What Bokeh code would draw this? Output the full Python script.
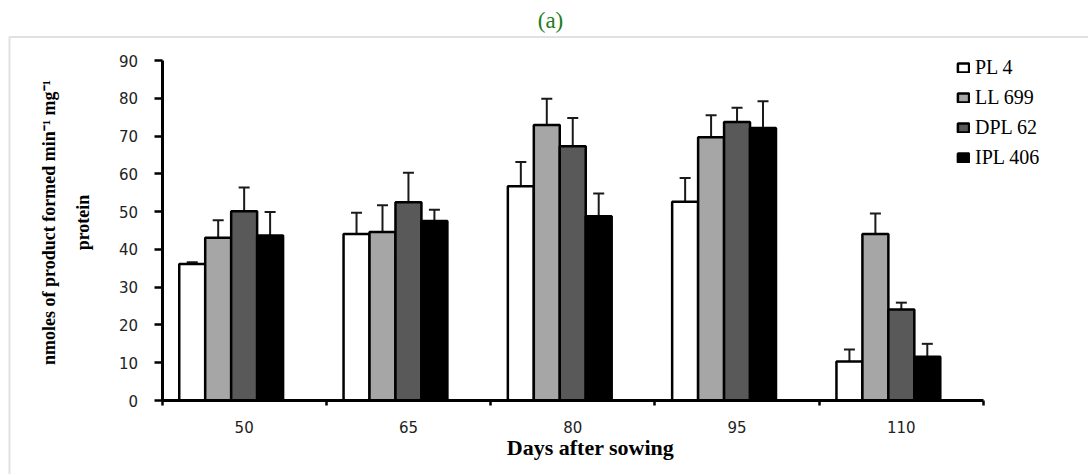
import math
from bokeh.plotting import figure
from bokeh.models import (Range1d, FixedTicker, ColumnDataSource, Whisker, TeeHead,
                          Label, Legend, LegendItem, BoxAnnotation)
from bokeh.embed import file_html
from bokeh.resources import INLINE

# ---------------- data ----------------
days = ["50", "65", "80", "95", "110"]
series = ["PL 4", "LL 699", "DPL 62", "IPL 406"]
colors = ["#ffffff", "#a6a6a6", "#595959", "#000000"]

pl4 = [36.1, 44.1, 56.7, 52.6, 10.3]
pl4_err = [0.5, 5.6, 6.4, 6.3, 3.2]
ll699 = [43.1, 44.6, 72.9, 69.7, 44.1]
ll699_err = [4.6, 7.1, 7.0, 5.8, 5.4]
dpl62 = [50.1, 52.5, 67.3, 73.7, 24.1]
dpl62_err = [6.3, 7.8, 7.5, 3.8, 1.8]
ipl406 = [43.7, 47.5, 48.8, 72.1, 11.6]
ipl406_err = [6.2, 3.0, 6.0, 7.1, 3.4]

values = [pl4, ll699, dpl62, ipl406]
errors = [pl4_err, ll699_err, dpl62_err, ipl406_err]
y_ticks = [0, 10, 20, 30, 40, 50, 60, 70, 80, 90]
y_max = 90

# ---------------- layout (pixels in the canvas) ----------------
W, H = 1088, 474
ax_x0, ax_x1 = 161.5, 983.0     # x pixel of x=0 and x=len(days)
ax_y0, ax_y1 = 400.0, 60.0      # y pixel (from top) of y=0 and y=y_max
ncat = len(days)
sx = (ax_x1 - ax_x0) / ncat
sy = (ax_y0 - ax_y1) / y_max
x_range = Range1d(-ax_x0 / sx, ncat + (W - ax_x1) / sx)
y_range = Range1d(-(H - ax_y0) / sy, y_max + ax_y1 / sy)

p = figure(width=W, height=H, output_backend="svg", toolbar_location=None,
           x_range=x_range, y_range=y_range,
           min_border_left=0, min_border_right=0, min_border_top=0,
           min_border_bottom=0)
p.outline_line_color = None
p.xgrid.grid_line_color = None
p.ygrid.grid_line_color = None
p.background_fill_color = "white"
p.border_fill_color = "white"

# chart-area border (top and left edges visible)
p.add_layout(BoxAnnotation(left=9, right=W + 50, top=36.5, bottom=H + 50,
                           left_units="canvas", right_units="canvas",
                           top_units="canvas", bottom_units="canvas",
                           fill_alpha=0, line_color="#9a9a9a", line_width=2))

slot = 0.158
items = []
for k, (name, vals, errs, col) in enumerate(zip(series, values, errors, colors)):
    xs = [i + 0.5 + (k - 2) * slot for i in range(ncat)]
    src = ColumnDataSource(dict(x=xs, top=vals,
                                upper=[v + e for v, e in zip(vals, errs)],
                                lower=[v - e for v, e in zip(vals, errs)]))
    r = p.vbar(x="x", top="top", width=slot, bottom=0, source=src,
               fill_color=col, line_color="black", line_width=2.5)
    items.append(LegendItem(label=name, renderers=[r]))
    w = Whisker(base="x", upper="upper", lower="lower", source=src,
                line_color="#1a1a1a", line_width=2,
                upper_head=TeeHead(size=11, line_width=2, line_color="#1a1a1a"),
                lower_head=TeeHead(size=11, line_width=2, line_color="#1a1a1a"))
    p.add_layout(w)

# x axis: labels at category centres, ticks at boundaries
xa = p.xaxis[0]
xa.fixed_location = 0
xa.bounds = (0, ncat)
xa.ticker = FixedTicker(ticks=[i + 0.5 for i in range(ncat)],
                        minor_ticks=list(range(ncat + 1)))
xa.major_label_overrides = {i + 0.5: d for i, d in enumerate(days)}
xa.major_tick_line_color = None
xa.major_tick_out = 0
xa.major_tick_in = 0
xa.minor_tick_line_color = "black"
xa.minor_tick_line_width = 2.5
xa.minor_tick_out = 5
xa.minor_tick_in = 0
xa.axis_line_width = 3
xa.axis_line_color = "black"
xa.major_label_standoff = 15
xa.major_label_text_font = "DejaVu Sans"
xa.major_label_text_font_size = "15px"
xa.major_label_text_color = "#222222"

ya = p.yaxis[0]
ya.fixed_location = 0
ya.bounds = (0, y_max)
ya.ticker = FixedTicker(ticks=y_ticks)
ya.minor_tick_line_color = None
ya.major_tick_out = 8
ya.major_tick_in = 0
ya.major_tick_line_width = 2.5
ya.major_tick_line_color = "black"
ya.axis_line_width = 3
ya.axis_line_color = "black"
ya.major_label_standoff = 16
ya.major_label_text_font = "DejaVu Sans"
ya.major_label_text_font_size = "15px"
ya.major_label_text_color = "#222222"

# titles
p.add_layout(Label(x=550, y=H - 20, x_units="screen", y_units="screen", text="(a)",
                   text_align="center", text_baseline="middle",
                   text_font="Liberation Serif", text_font_size="23px",
                   text_color="#1e7d1e"))
p.add_layout(Label(x=590, y=H - 447, x_units="screen", y_units="screen",
                   text="Days after sowing", text_align="center",
                   text_baseline="middle", text_font="Liberation Serif",
                   text_font_style="bold", text_font_size="22px",
                   text_color="black"))
p.add_layout(Label(x=48, y=H - 222, x_units="screen", y_units="screen",
                   text="nmoles of product formed min\u207b\u00b9 mg\u207b\u00b9",
                   angle=math.pi / 2, text_align="center", text_baseline="middle",
                   text_font="Liberation Serif", text_font_style="bold",
                   text_font_size="18px", text_color="black"))
p.add_layout(Label(x=82, y=H - 222, x_units="screen", y_units="screen",
                   text="protein",
                   angle=math.pi / 2, text_align="center", text_baseline="middle",
                   text_font="Liberation Serif", text_font_style="bold",
                   text_font_size="18px", text_color="black"))

legend = Legend(items=items, location=(956, H - 169), orientation="vertical",
                glyph_width=14, glyph_height=11, label_height=20, spacing=7,
                padding=0, margin=0, label_standoff=5,
                label_text_font="Liberation Serif", label_text_font_size="20px",
                label_text_color="black", border_line_color=None,
                background_fill_alpha=0)
p.add_layout(legend)

open("out.html", "w").write(file_html(p, INLINE))
